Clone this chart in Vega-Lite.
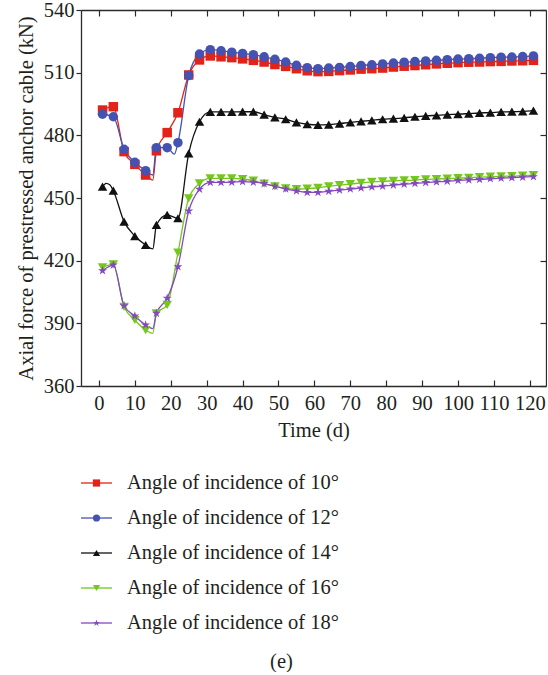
{
  "$schema": "https://vega.github.io/schema/vega-lite/v6.json",
  "padding": {"left": 16, "top": 0, "right": 0, "bottom": 0},
  "background": "white",
  "bounds": "flush",
  "spacing": 97,
  "title": {"text": "(e)", "orient": "bottom", "anchor": "middle", "offset": 18, "font": "Liberation Serif", "fontSize": 20.5, "fontWeight": "normal", "color": "#231f20"},
  "datasets": {
    "force": [
      {"series": "Angle of incidence of 10°", "t": 1, "v": 492.1}, {"series": "Angle of incidence of 10°", "t": 4, "v": 493.7},
      {"series": "Angle of incidence of 10°", "t": 7, "v": 472.2}, {"series": "Angle of incidence of 10°", "t": 10, "v": 466.1},
      {"series": "Angle of incidence of 10°", "t": 13, "v": 461.0}, {"series": "Angle of incidence of 10°", "t": 15, "v": 458.6},
      {"series": "Angle of incidence of 10°", "t": 16, "v": 472.6}, {"series": "Angle of incidence of 10°", "t": 19, "v": 481.3},
      {"series": "Angle of incidence of 10°", "t": 22, "v": 490.8}, {"series": "Angle of incidence of 10°", "t": 25, "v": 508.9},
      {"series": "Angle of incidence of 10°", "t": 28, "v": 516.1}, {"series": "Angle of incidence of 10°", "t": 31, "v": 518.0},
      {"series": "Angle of incidence of 10°", "t": 34, "v": 517.6}, {"series": "Angle of incidence of 10°", "t": 37, "v": 517.2},
      {"series": "Angle of incidence of 10°", "t": 40, "v": 516.6}, {"series": "Angle of incidence of 10°", "t": 43, "v": 515.9},
      {"series": "Angle of incidence of 10°", "t": 46, "v": 515.1}, {"series": "Angle of incidence of 10°", "t": 49, "v": 513.9},
      {"series": "Angle of incidence of 10°", "t": 52, "v": 513.0}, {"series": "Angle of incidence of 10°", "t": 55, "v": 511.9},
      {"series": "Angle of incidence of 10°", "t": 58, "v": 510.9}, {"series": "Angle of incidence of 10°", "t": 61, "v": 510.5},
      {"series": "Angle of incidence of 10°", "t": 64, "v": 510.6}, {"series": "Angle of incidence of 10°", "t": 67, "v": 511.0},
      {"series": "Angle of incidence of 10°", "t": 70, "v": 511.3}, {"series": "Angle of incidence of 10°", "t": 73, "v": 511.7},
      {"series": "Angle of incidence of 10°", "t": 76, "v": 511.9}, {"series": "Angle of incidence of 10°", "t": 79, "v": 512.2},
      {"series": "Angle of incidence of 10°", "t": 82, "v": 512.7}, {"series": "Angle of incidence of 10°", "t": 85, "v": 513.1},
      {"series": "Angle of incidence of 10°", "t": 88, "v": 513.4}, {"series": "Angle of incidence of 10°", "t": 91, "v": 513.8},
      {"series": "Angle of incidence of 10°", "t": 94, "v": 514.2}, {"series": "Angle of incidence of 10°", "t": 97, "v": 514.5},
      {"series": "Angle of incidence of 10°", "t": 100, "v": 514.8}, {"series": "Angle of incidence of 10°", "t": 103, "v": 515.0},
      {"series": "Angle of incidence of 10°", "t": 106, "v": 515.1}, {"series": "Angle of incidence of 10°", "t": 109, "v": 515.3},
      {"series": "Angle of incidence of 10°", "t": 112, "v": 515.4}, {"series": "Angle of incidence of 10°", "t": 115, "v": 515.6},
      {"series": "Angle of incidence of 10°", "t": 118, "v": 515.7}, {"series": "Angle of incidence of 10°", "t": 121, "v": 515.9},

      {"series": "Angle of incidence of 12°", "t": 1, "v": 490.1}, {"series": "Angle of incidence of 12°", "t": 4, "v": 488.9},
      {"series": "Angle of incidence of 12°", "t": 7, "v": 473.3}, {"series": "Angle of incidence of 12°", "t": 10, "v": 467.1},
      {"series": "Angle of incidence of 12°", "t": 13, "v": 463.1}, {"series": "Angle of incidence of 12°", "t": 15, "v": 461.0},
      {"series": "Angle of incidence of 12°", "t": 16, "v": 474.1}, {"series": "Angle of incidence of 12°", "t": 19, "v": 474.1},
      {"series": "Angle of incidence of 12°", "t": 21, "v": 471.0}, {"series": "Angle of incidence of 12°", "t": 22, "v": 476.5},
      {"series": "Angle of incidence of 12°", "t": 25, "v": 508.6}, {"series": "Angle of incidence of 12°", "t": 28, "v": 518.9},
      {"series": "Angle of incidence of 12°", "t": 31, "v": 521.0}, {"series": "Angle of incidence of 12°", "t": 34, "v": 520.5},
      {"series": "Angle of incidence of 12°", "t": 37, "v": 519.8}, {"series": "Angle of incidence of 12°", "t": 40, "v": 519.2},
      {"series": "Angle of incidence of 12°", "t": 43, "v": 518.6}, {"series": "Angle of incidence of 12°", "t": 46, "v": 517.6},
      {"series": "Angle of incidence of 12°", "t": 49, "v": 516.4}, {"series": "Angle of incidence of 12°", "t": 52, "v": 515.1},
      {"series": "Angle of incidence of 12°", "t": 55, "v": 513.5}, {"series": "Angle of incidence of 12°", "t": 58, "v": 512.4},
      {"series": "Angle of incidence of 12°", "t": 61, "v": 511.9}, {"series": "Angle of incidence of 12°", "t": 64, "v": 512.2},
      {"series": "Angle of incidence of 12°", "t": 67, "v": 512.5}, {"series": "Angle of incidence of 12°", "t": 70, "v": 512.9},
      {"series": "Angle of incidence of 12°", "t": 73, "v": 513.4}, {"series": "Angle of incidence of 12°", "t": 76, "v": 513.8},
      {"series": "Angle of incidence of 12°", "t": 79, "v": 514.2}, {"series": "Angle of incidence of 12°", "t": 82, "v": 514.6},
      {"series": "Angle of incidence of 12°", "t": 85, "v": 515.0}, {"series": "Angle of incidence of 12°", "t": 88, "v": 515.3},
      {"series": "Angle of incidence of 12°", "t": 91, "v": 515.6}, {"series": "Angle of incidence of 12°", "t": 94, "v": 515.9},
      {"series": "Angle of incidence of 12°", "t": 97, "v": 516.2}, {"series": "Angle of incidence of 12°", "t": 100, "v": 516.5},
      {"series": "Angle of incidence of 12°", "t": 103, "v": 516.7}, {"series": "Angle of incidence of 12°", "t": 106, "v": 516.9},
      {"series": "Angle of incidence of 12°", "t": 109, "v": 517.2}, {"series": "Angle of incidence of 12°", "t": 112, "v": 517.4},
      {"series": "Angle of incidence of 12°", "t": 115, "v": 517.5}, {"series": "Angle of incidence of 12°", "t": 118, "v": 517.7},
      {"series": "Angle of incidence of 12°", "t": 121, "v": 518.0},

      {"series": "Angle of incidence of 14°", "t": 1, "v": 455.4}, {"series": "Angle of incidence of 14°", "t": 2, "v": 457.0},
      {"series": "Angle of incidence of 14°", "t": 3, "v": 456.3}, {"series": "Angle of incidence of 14°", "t": 4, "v": 453.5},
      {"series": "Angle of incidence of 14°", "t": 7, "v": 438.7}, {"series": "Angle of incidence of 14°", "t": 10, "v": 431.8},
      {"series": "Angle of incidence of 14°", "t": 13, "v": 427.5}, {"series": "Angle of incidence of 14°", "t": 15, "v": 425.6},
      {"series": "Angle of incidence of 14°", "t": 16, "v": 437.1}, {"series": "Angle of incidence of 14°", "t": 19, "v": 441.9},
      {"series": "Angle of incidence of 14°", "t": 22, "v": 440.3}, {"series": "Angle of incidence of 14°", "t": 25, "v": 471.4},
      {"series": "Angle of incidence of 14°", "t": 28, "v": 486.5}, {"series": "Angle of incidence of 14°", "t": 31, "v": 491.2},
      {"series": "Angle of incidence of 14°", "t": 34, "v": 491.2}, {"series": "Angle of incidence of 14°", "t": 37, "v": 491.2},
      {"series": "Angle of incidence of 14°", "t": 40, "v": 491.3}, {"series": "Angle of incidence of 14°", "t": 43, "v": 491.3},
      {"series": "Angle of incidence of 14°", "t": 46, "v": 489.9}, {"series": "Angle of incidence of 14°", "t": 49, "v": 488.6},
      {"series": "Angle of incidence of 14°", "t": 52, "v": 487.7}, {"series": "Angle of incidence of 14°", "t": 55, "v": 486.2},
      {"series": "Angle of incidence of 14°", "t": 58, "v": 485.3}, {"series": "Angle of incidence of 14°", "t": 61, "v": 485.0},
      {"series": "Angle of incidence of 14°", "t": 64, "v": 485.1}, {"series": "Angle of incidence of 14°", "t": 67, "v": 485.6},
      {"series": "Angle of incidence of 14°", "t": 70, "v": 486.2}, {"series": "Angle of incidence of 14°", "t": 73, "v": 486.7},
      {"series": "Angle of incidence of 14°", "t": 76, "v": 487.2}, {"series": "Angle of incidence of 14°", "t": 79, "v": 487.7},
      {"series": "Angle of incidence of 14°", "t": 82, "v": 488.0}, {"series": "Angle of incidence of 14°", "t": 85, "v": 488.4},
      {"series": "Angle of incidence of 14°", "t": 88, "v": 488.9}, {"series": "Angle of incidence of 14°", "t": 91, "v": 489.3},
      {"series": "Angle of incidence of 14°", "t": 94, "v": 489.6}, {"series": "Angle of incidence of 14°", "t": 97, "v": 489.9},
      {"series": "Angle of incidence of 14°", "t": 100, "v": 490.1}, {"series": "Angle of incidence of 14°", "t": 103, "v": 490.4},
      {"series": "Angle of incidence of 14°", "t": 106, "v": 490.7}, {"series": "Angle of incidence of 14°", "t": 109, "v": 490.9},
      {"series": "Angle of incidence of 14°", "t": 112, "v": 491.2}, {"series": "Angle of incidence of 14°", "t": 115, "v": 491.3},
      {"series": "Angle of incidence of 14°", "t": 118, "v": 491.5}, {"series": "Angle of incidence of 14°", "t": 121, "v": 491.8},

      {"series": "Angle of incidence of 16°", "t": 1, "v": 416.8}, {"series": "Angle of incidence of 16°", "t": 4, "v": 418.2},
      {"series": "Angle of incidence of 16°", "t": 7, "v": 397.9}, {"series": "Angle of incidence of 16°", "t": 10, "v": 391.6},
      {"series": "Angle of incidence of 16°", "t": 13, "v": 386.8}, {"series": "Angle of incidence of 16°", "t": 15, "v": 385.2},
      {"series": "Angle of incidence of 16°", "t": 16, "v": 394.8}, {"series": "Angle of incidence of 16°", "t": 19, "v": 398.8},
      {"series": "Angle of incidence of 16°", "t": 22, "v": 423.8}, {"series": "Angle of incidence of 16°", "t": 25, "v": 449.8},
      {"series": "Angle of incidence of 16°", "t": 28, "v": 457.0}, {"series": "Angle of incidence of 16°", "t": 31, "v": 459.4},
      {"series": "Angle of incidence of 16°", "t": 34, "v": 459.4}, {"series": "Angle of incidence of 16°", "t": 37, "v": 459.4},
      {"series": "Angle of incidence of 16°", "t": 40, "v": 459.1}, {"series": "Angle of incidence of 16°", "t": 43, "v": 458.3},
      {"series": "Angle of incidence of 16°", "t": 46, "v": 456.9}, {"series": "Angle of incidence of 16°", "t": 49, "v": 455.6},
      {"series": "Angle of incidence of 16°", "t": 52, "v": 454.6}, {"series": "Angle of incidence of 16°", "t": 55, "v": 454.3},
      {"series": "Angle of incidence of 16°", "t": 58, "v": 454.5}, {"series": "Angle of incidence of 16°", "t": 61, "v": 454.9},
      {"series": "Angle of incidence of 16°", "t": 64, "v": 455.6}, {"series": "Angle of incidence of 16°", "t": 67, "v": 456.2},
      {"series": "Angle of incidence of 16°", "t": 70, "v": 456.7}, {"series": "Angle of incidence of 16°", "t": 73, "v": 457.2},
      {"series": "Angle of incidence of 16°", "t": 76, "v": 457.7}, {"series": "Angle of incidence of 16°", "t": 79, "v": 458.0},
      {"series": "Angle of incidence of 16°", "t": 82, "v": 458.2}, {"series": "Angle of incidence of 16°", "t": 85, "v": 458.4},
      {"series": "Angle of incidence of 16°", "t": 88, "v": 458.6}, {"series": "Angle of incidence of 16°", "t": 91, "v": 458.9},
      {"series": "Angle of incidence of 16°", "t": 94, "v": 459.1}, {"series": "Angle of incidence of 16°", "t": 97, "v": 459.3},
      {"series": "Angle of incidence of 16°", "t": 100, "v": 459.5}, {"series": "Angle of incidence of 16°", "t": 103, "v": 459.7},
      {"series": "Angle of incidence of 16°", "t": 106, "v": 460.0}, {"series": "Angle of incidence of 16°", "t": 109, "v": 460.2},
      {"series": "Angle of incidence of 16°", "t": 112, "v": 460.4}, {"series": "Angle of incidence of 16°", "t": 115, "v": 460.5},
      {"series": "Angle of incidence of 16°", "t": 118, "v": 460.7}, {"series": "Angle of incidence of 16°", "t": 121, "v": 460.9},

      {"series": "Angle of incidence of 18°", "t": 1, "v": 415.2}, {"series": "Angle of incidence of 18°", "t": 4, "v": 417.9},
      {"series": "Angle of incidence of 18°", "t": 7, "v": 398.4}, {"series": "Angle of incidence of 18°", "t": 10, "v": 393.5},
      {"series": "Angle of incidence of 18°", "t": 13, "v": 389.2}, {"series": "Angle of incidence of 18°", "t": 15, "v": 387.5},
      {"series": "Angle of incidence of 18°", "t": 16, "v": 394.8}, {"series": "Angle of incidence of 18°", "t": 19, "v": 402.0},
      {"series": "Angle of incidence of 18°", "t": 22, "v": 417.1}, {"series": "Angle of incidence of 18°", "t": 25, "v": 443.8},
      {"series": "Angle of incidence of 18°", "t": 28, "v": 454.2}, {"series": "Angle of incidence of 18°", "t": 31, "v": 457.5},
      {"series": "Angle of incidence of 18°", "t": 34, "v": 457.5}, {"series": "Angle of incidence of 18°", "t": 37, "v": 457.6},
      {"series": "Angle of incidence of 18°", "t": 40, "v": 457.8}, {"series": "Angle of incidence of 18°", "t": 43, "v": 457.6},
      {"series": "Angle of incidence of 18°", "t": 46, "v": 456.9}, {"series": "Angle of incidence of 18°", "t": 49, "v": 455.6},
      {"series": "Angle of incidence of 18°", "t": 52, "v": 454.3}, {"series": "Angle of incidence of 18°", "t": 55, "v": 453.4},
      {"series": "Angle of incidence of 18°", "t": 58, "v": 452.7}, {"series": "Angle of incidence of 18°", "t": 61, "v": 452.7},
      {"series": "Angle of incidence of 18°", "t": 64, "v": 453.2}, {"series": "Angle of incidence of 18°", "t": 67, "v": 453.8},
      {"series": "Angle of incidence of 18°", "t": 70, "v": 454.3}, {"series": "Angle of incidence of 18°", "t": 73, "v": 454.8},
      {"series": "Angle of incidence of 18°", "t": 76, "v": 455.3}, {"series": "Angle of incidence of 18°", "t": 79, "v": 455.7},
      {"series": "Angle of incidence of 18°", "t": 82, "v": 456.2}, {"series": "Angle of incidence of 18°", "t": 85, "v": 456.6},
      {"series": "Angle of incidence of 18°", "t": 88, "v": 457.0}, {"series": "Angle of incidence of 18°", "t": 91, "v": 457.4},
      {"series": "Angle of incidence of 18°", "t": 94, "v": 457.7}, {"series": "Angle of incidence of 18°", "t": 97, "v": 458.0},
      {"series": "Angle of incidence of 18°", "t": 100, "v": 458.4}, {"series": "Angle of incidence of 18°", "t": 103, "v": 458.7},
      {"series": "Angle of incidence of 18°", "t": 106, "v": 458.9}, {"series": "Angle of incidence of 18°", "t": 109, "v": 459.2},
      {"series": "Angle of incidence of 18°", "t": 112, "v": 459.5}, {"series": "Angle of incidence of 18°", "t": 115, "v": 459.7},
      {"series": "Angle of incidence of 18°", "t": 118, "v": 460.0}, {"series": "Angle of incidence of 18°", "t": 121, "v": 460.2}
    ],
    "keys": [
      {"series": "Angle of incidence of 10°"},
      {"series": "Angle of incidence of 12°"},
      {"series": "Angle of incidence of 14°"},
      {"series": "Angle of incidence of 16°"},
      {"series": "Angle of incidence of 18°"}
    ]
  },
  "vconcat": [
    {
      "width": 465,
      "height": 376,
      "data": {"name": "force"},
      "resolve": {"axis": {"x": "independent", "y": "independent"}},
      "layer": [
        {
          "mark": {"type": "line", "interpolate": "monotone", "strokeWidth": 1.3},
          "encoding": {
            "x": {
              "field": "t", "type": "quantitative",
              "scale": {"domain": [-5, 124.5], "nice": false, "zero": false},
              "axis": {"orient": "bottom", "values": [0, 10, 20, 30, 40, 50, 60, 70, 80, 90, 100, 110, 120], "title": "Time (d)", "tickSize": -6, "labelPadding": 13, "titlePadding": 7}
            },
            "y": {
              "field": "v", "type": "quantitative",
              "scale": {"domain": [360, 540], "nice": false, "zero": false},
              "axis": {"orient": "left", "values": [360, 390, 420, 450, 480, 510, 540], "title": "Axial force of prestressed anchor cable (kN)", "tickSize": 5, "labelPadding": 2, "titlePadding": 7}
            },
            "color": {
              "field": "series", "type": "nominal", "legend": null,
              "scale": {
                "domain": ["Angle of incidence of 10°", "Angle of incidence of 12°", "Angle of incidence of 14°", "Angle of incidence of 16°", "Angle of incidence of 18°"],
                "range": ["#E2231A", "#4452B1", "#111111", "#74C81C", "#8448C0"]
              }
            }
          }
        },
        {
          "transform": [{"filter": "(datum.t - 1) % 3 == 0"}],
          "mark": {"type": "point", "filled": true, "size": 90, "opacity": 1},
          "encoding": {
            "x": {
              "field": "t", "type": "quantitative",
              "axis": {"orient": "top", "values": [0, 10, 20, 30, 40, 50, 60, 70, 80, 90, 100, 110, 120], "labels": false, "title": null, "tickSize": -6}
            },
            "y": {
              "field": "v", "type": "quantitative",
              "axis": {"orient": "right", "values": [360, 390, 420, 450, 480, 510, 540], "labels": false, "title": null, "tickSize": -6}
            },
            "color": {"field": "series", "type": "nominal", "legend": null},
            "shape": {
              "field": "series", "type": "nominal", "legend": null,
              "scale": {
                "domain": ["Angle of incidence of 10°", "Angle of incidence of 12°", "Angle of incidence of 14°", "Angle of incidence of 16°", "Angle of incidence of 18°"],
                "range": ["square", "circle", "triangle-up", "triangle-down", "M0,-1L0.223,-0.307L0.951,-0.309L0.361,0.117L0.588,0.809L0,0.38L-0.588,0.809L-0.361,0.117L-0.951,-0.309L-0.223,-0.307Z"]
              }
            }
          }
        }
      ]
    },
    {
      "width": 465,
      "height": 140,
      "data": {"name": "keys"},
      "encoding": {
        "y": {
          "field": "series", "type": "nominal", "axis": null,
          "scale": {"type": "point", "padding": 0, "domain": ["Angle of incidence of 10°", "Angle of incidence of 12°", "Angle of incidence of 14°", "Angle of incidence of 16°", "Angle of incidence of 18°"]}
        },
        "color": {
          "field": "series", "type": "nominal", "legend": null,
          "scale": {
            "domain": ["Angle of incidence of 10°", "Angle of incidence of 12°", "Angle of incidence of 14°", "Angle of incidence of 16°", "Angle of incidence of 18°"],
            "range": ["#E2231A", "#4452B1", "#111111", "#74C81C", "#8448C0"]
          }
        }
      },
      "layer": [
        {
          "mark": {"type": "rule", "strokeWidth": 1.3},
          "encoding": {
            "x": {"datum": 0, "type": "quantitative", "axis": null, "scale": {"domain": [0, 465], "nice": false, "zero": false}},
            "x2": {"datum": 31}
          }
        },
        {
          "mark": {"type": "point", "filled": true, "size": 52, "opacity": 1},
          "encoding": {
            "x": {"datum": 15.5, "type": "quantitative"},
            "shape": {
              "field": "series", "type": "nominal", "legend": null,
              "scale": {
                "domain": ["Angle of incidence of 10°", "Angle of incidence of 12°", "Angle of incidence of 14°", "Angle of incidence of 16°", "Angle of incidence of 18°"],
                "range": ["square", "circle", "triangle-up", "triangle-down", "M0,-1L0.223,-0.307L0.951,-0.309L0.361,0.117L0.588,0.809L0,0.38L-0.588,0.809L-0.361,0.117L-0.951,-0.309L-0.223,-0.307Z"]
              }
            }
          }
        },
        {
          "mark": {"type": "text", "align": "left", "baseline": "middle", "font": "Liberation Serif", "fontSize": 20.5, "color": "#231f20"},
          "encoding": {
            "x": {"datum": 46, "type": "quantitative"},
            "text": {"field": "series"},
            "color": {"value": "#231f20"}
          }
        }
      ]
    }
  ],
  "config": {
    "font": "Liberation Serif",
    "view": {"stroke": null},
    "axis": {
      "grid": false,
      "domainColor": "#2b2b2b", "domainWidth": 1.3,
      "tickColor": "#2b2b2b", "tickWidth": 1.2,
      "labelFont": "Liberation Serif", "labelFontSize": 20.5, "labelColor": "#231f20",
      "titleFont": "Liberation Serif", "titleFontSize": 20.5, "titleFontWeight": "normal", "titleColor": "#231f20"
    }
  }
}
